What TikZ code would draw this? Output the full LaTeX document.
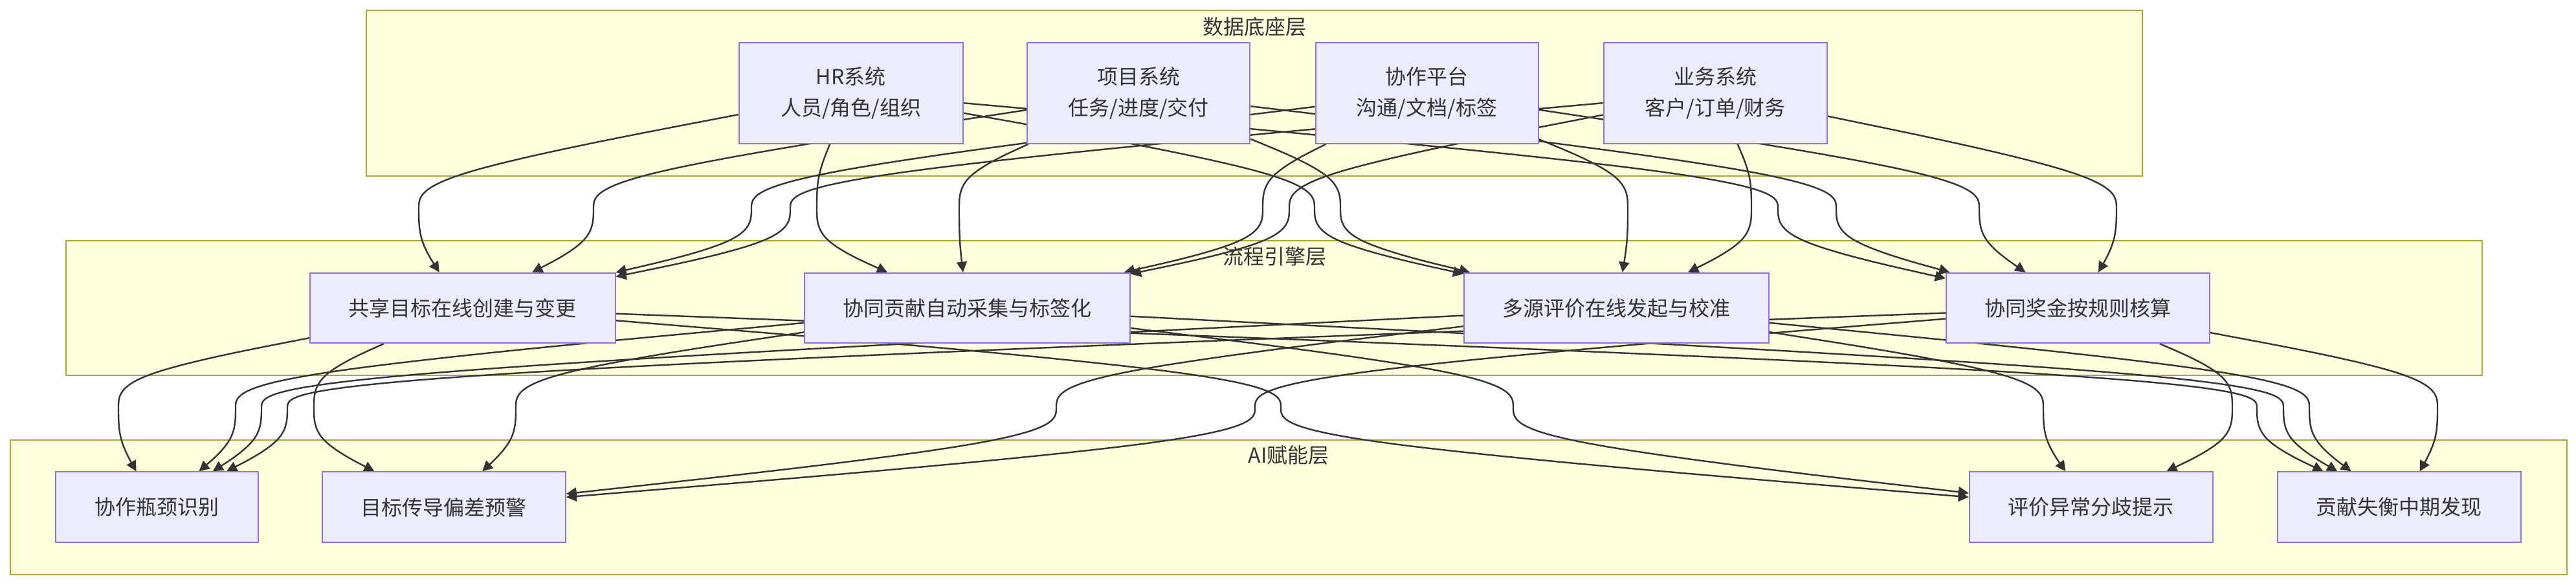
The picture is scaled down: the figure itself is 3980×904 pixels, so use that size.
\documentclass[tikz,border=0pt]{standalone}
\usepackage{fontspec}
\setmainfont{Noto Sans CJK SC}
\usetikzlibrary{calc,arrows.meta}
\definecolor{clfill}{HTML}{FFFFDE}
\definecolor{cldraw}{HTML}{AAAA33}
\definecolor{ndfill}{HTML}{ECECFF}
\definecolor{nddraw}{HTML}{9370DB}
\definecolor{txt}{HTML}{333333}
\definecolor{edgec}{HTML}{333333}
\pgfdeclarelayer{bglayer}
\pgfdeclarelayer{edgelayer}
\pgfsetlayers{bglayer,edgelayer,main}
% #1 source node, #2 target node, #3 x of the vertical run, #4 y of its top, #5 y of its bottom
\newcommand{\bedge}[5]{%
  \coordinate (d1) at (#3,#4);
  \coordinate (d3) at (#3,#5);
  \coordinate (d2) at ($(d1)!0.5!(d3)$);
  \path (d1) -- (#1) coordinate[pos=1] (s);
  \path (d3) -- (#2) coordinate[pos=1] (e);
  \draw[conn] (s) -- ($0.83333*(s)+0.16667*(d1)$)
    .. controls ($0.66667*(s)+0.33333*(d1)$) and ($0.33333*(s)+0.66667*(d1)$) .. ($0.16667*(s)+0.66667*(d1)+0.16667*(d2)$)
    .. controls ($0.66667*(d1)+0.33333*(d2)$) and ($0.33333*(d1)+0.66667*(d2)$) .. (d2)
    .. controls ($0.66667*(d2)+0.33333*(d3)$) and ($0.33333*(d2)+0.66667*(d3)$) .. ($0.16667*(d2)+0.66667*(d3)+0.16667*(e)$)
    .. controls ($0.66667*(d3)+0.33333*(e)$) and ($0.33333*(d3)+0.66667*(e)$) .. ($0.16667*(d3)+0.83333*(e)$)
    -- (e);
}
\begin{document}
\begin{tikzpicture}[x=0.5pt,y=-0.5pt,
  cluster/.style={draw=cldraw, fill=clfill, line width=1pt, inner sep=0pt},
  ctitle/.style={text=txt, font=\fontsize{16pt}{20pt}\selectfont, inner sep=0pt},
  nd/.style={draw=nddraw, fill=ndfill, line width=1pt, text=txt,
    font=\fontsize{16pt}{24pt}\selectfont, align=center, inner sep=0pt},
  conn/.style={draw=edgec, line width=1.2pt, -{Triangle[length=8pt,width=8pt]}}]
\useasboundingbox (0,0) rectangle (3980,904);

% layer frames
\begin{pgfonlayer}{bglayer}
\node[cluster, minimum width=1372pt, minimum height=128pt] (L1) at (1938,143.7) {};
\node[cluster, minimum width=1866.6pt, minimum height=104.2pt] (L2) at (1968.3,475.9) {};
\node[cluster, minimum width=1974.8pt, minimum height=103.9pt] (L3) at (1990.8,783.9) {};
\node[ctitle] (T1) at (1938,41) {数据底座层};
\node[ctitle] (T2) at (1969,396) {流程引擎层};
\node[ctitle] (T3) at (1991,703) {AI赋能层};
\end{pgfonlayer}

% data layer
\node[nd, minimum width=173pt, minimum height=78pt] (HR) at (1314.6,143.7) {HR系统\\人员/角色/组织};
\node[nd, minimum width=172.2pt, minimum height=78pt] (PM) at (1759.2,143.7) {项目系统\\任务/进度/交付};
\node[nd, minimum width=172pt, minimum height=78pt] (CO) at (2204.5,143.7) {协作平台\\沟通/文档/标签};
\node[nd, minimum width=172.6pt, minimum height=78pt] (BIZ) at (2650.2,143.7) {业务系统\\客户/订单/财务};

% process layer
\node[nd, minimum width=235.8pt, minimum height=54.2pt] (G) at (714.8,475.9) {共享目标在线创建与变更};
\node[nd, minimum width=251.5pt, minimum height=54.2pt] (C) at (1494.5,475.9) {协同贡献自动采集与标签化};
\node[nd, minimum width=235.2pt, minimum height=54.2pt] (E) at (2497.3,475.9) {多源评价在线发起与校准};
\node[nd, minimum width=203.6pt, minimum height=54.2pt] (B) at (3210.4,475.9) {协同奖金按规则核算};

% AI layer
\node[nd, minimum width=156.3pt, minimum height=54.5pt] (X1) at (242.3,783.8) {协作瓶颈识别};
\node[nd, minimum width=188.2pt, minimum height=54.5pt] (X2) at (685.7,783.8) {目标传导偏差预警};
\node[nd, minimum width=188pt, minimum height=54.5pt] (X3) at (3230.7,783.8) {评价异常分歧提示};
\node[nd, minimum width=188.4pt, minimum height=54.5pt] (X4) at (3706.9,783.8) {贡献失衡中期发现};

\begin{pgfonlayer}{edgelayer}
% data -> process
\bedge{HR}{G}{647}{272}{372}
\bedge{PM}{G}{917}{272}{372}
\bedge{CO}{G}{1161}{272}{372}
\bedge{BIZ}{G}{1221}{272}{372}
\bedge{HR}{C}{1262}{272}{372}
\bedge{PM}{C}{1482}{272}{372}
\bedge{CO}{C}{1951}{272}{372}
\bedge{BIZ}{C}{1992}{272}{372}
\bedge{HR}{E}{2031}{272}{372}
\bedge{PM}{E}{2071}{272}{372}
\bedge{CO}{E}{2515}{272}{372}
\bedge{BIZ}{E}{2706}{272}{372}
\bedge{HR}{B}{2747}{272}{372}
\bedge{PM}{B}{2837}{272}{372}
\bedge{CO}{B}{3058}{272}{372}
\bedge{BIZ}{B}{3270}{272}{372}
% process -> AI
\bedge{G}{X1}{183}{580}{680}
\bedge{C}{X1}{364}{580}{680}
\bedge{E}{X1}{404}{580}{680}
\bedge{B}{X1}{444}{580}{680}
\bedge{G}{X2}{485}{580}{680}
\bedge{C}{X2}{797}{580}{680}
\bedge{E}{X2}{1632}{580}{680}
\bedge{B}{X2}{1939}{580}{680}
\bedge{G}{X3}{1979}{580}{680}
\bedge{C}{X3}{2338}{580}{680}
\bedge{E}{X3}{3157}{580}{680}
\bedge{B}{X3}{3449}{580}{680}
\bedge{G}{X4}{3487}{580}{680}
\bedge{C}{X4}{3528}{580}{680}
\bedge{E}{X4}{3568}{580}{680}
\bedge{B}{X4}{3766}{580}{680}
\end{pgfonlayer}
\end{tikzpicture}
\end{document}
